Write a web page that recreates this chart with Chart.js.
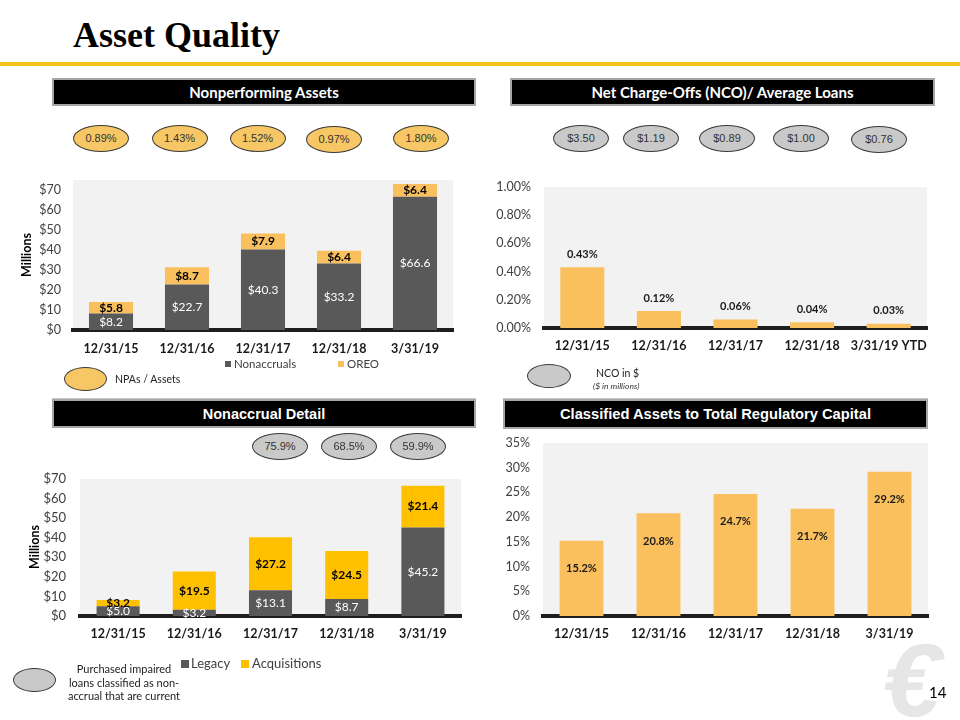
<!DOCTYPE html>
<html>
<head>
<meta charset="utf-8">
<script src="https://cdn.jsdelivr.net/npm/chart.js@4.4.1/dist/chart.umd.min.js"></script>
<style>
  html, body { margin:0; padding:0; background:#fff; }
  body { width:960px; height:720px; position:relative; overflow:hidden; font-family:Lato, "Open Sans", sans-serif; }
  .abs { position:absolute; }
  .title { left:73px; top:17px; font-family:"Liberation Serif", serif; font-weight:bold; font-size:36px; line-height:36px; color:#000; }
  .rule { left:0; top:62px; width:960px; height:4px; background:#F2C218; }
  .hdr { background:#000; border:2px solid #A6A6A6; box-sizing:border-box; color:#fff; font-weight:bold; display:flex; align-items:center; justify-content:center; white-space:nowrap; }
  .sep { height:1px; background:#C8C8C8; }
  .oval { border:1px solid #3A3A3A; border-radius:50%; box-sizing:border-box; display:flex; align-items:center; justify-content:center; font-family:"Liberation Sans", Arial, sans-serif; font-size:11px; color:#333; }
  .gold { background:#F8C765; }
  .grey { background:#C9C9C9; }
  .lg { font-size:11.5px; color:#404040; line-height:14px; white-space:nowrap; }
  .ytitle { font-size:12.5px; font-weight:bold; color:#000; line-height:14px; white-space:nowrap; transform:translate(-50%,-50%) rotate(-90deg); }
  canvas { position:absolute; }
</style>
</head>
<body>
<div class="abs title">Asset Quality</div>
<div class="abs rule"></div>

<div class="abs hdr" style="left:52px;top:78px;width:424px;height:28px;font-size:15px;">Nonperforming Assets</div>
<div class="abs hdr" style="left:510px;top:78px;width:425px;height:28px;font-size:15px;">Net Charge-Offs (NCO)/ Average Loans</div>
<div class="abs hdr" style="left:52px;top:399px;width:424px;height:29px;font-family:'Liberation Sans',Arial,sans-serif;font-size:14.5px;">Nonaccrual Detail</div>
<div class="abs hdr" style="left:503px;top:399px;width:425px;height:30px;font-family:'Liberation Sans',Arial,sans-serif;font-size:14.7px;">Classified Assets to Total Regulatory Capital</div>

<div class="abs sep" style="left:52px;top:398px;width:424px;"></div>
<div class="abs sep" style="left:503px;top:398px;width:425px;"></div>

<canvas id="cA" width="460" height="202" style="left:10px;top:158px;width:460px;height:202px;"></canvas>
<canvas id="cB" width="470" height="195" style="left:480px;top:165px;width:470px;height:195px;"></canvas>
<canvas id="cC" width="460" height="201" style="left:10px;top:457px;width:460px;height:201px;"></canvas>
<canvas id="cD" width="470" height="237" style="left:480px;top:421px;width:470px;height:237px;"></canvas>

<div class="abs ytitle" style="left:27px;top:255px;">Millions</div>
<div class="abs ytitle" style="left:35px;top:547px;">Millions</div>

<!-- legend A -->
<div class="abs" style="left:225px;top:361px;width:6px;height:6px;background:#595959;"></div>
<div class="abs lg" style="left:234px;top:357px;">Nonaccruals</div>
<div class="abs" style="left:338px;top:361px;width:6px;height:6px;background:#FAC05E;"></div>
<div class="abs lg" style="left:347px;top:357px;">OREO</div>

<!-- legend C -->
<div class="abs" style="left:181px;top:660px;width:8px;height:8px;background:#595959;"></div>
<div class="abs lg" style="left:191px;top:655px;font-size:13px;line-height:16px;">Legacy</div>
<div class="abs" style="left:241px;top:660px;width:8px;height:8px;background:#FFC000;"></div>
<div class="abs lg" style="left:252px;top:655px;font-size:13px;line-height:16px;">Acquisitions</div>

<!-- key ovals -->
<div class="abs oval gold" style="left:64px;top:367px;width:43px;height:24px;"></div>
<div class="abs" style="left:115px;top:372px;font-size:10.5px;line-height:14px;color:#222;">NPAs / Assets</div>

<div class="abs oval grey" style="left:527px;top:364px;width:44px;height:24px;"></div>
<div class="abs" style="left:596px;top:366px;font-size:10.5px;line-height:14px;color:#222;">NCO in $</div>
<div class="abs" style="left:593px;top:380px;font-size:8.5px;line-height:12px;color:#333;font-style:italic;">($ in millions)</div>

<div class="abs oval grey" style="left:13px;top:668px;width:43px;height:24px;"></div>
<div class="abs" style="left:64px;top:662px;width:120px;text-align:center;font-size:11px;line-height:13.5px;color:#222;">Purchased impaired<br>loans classified as non-<br>accrual that are current</div>

<div class="abs" style="left:883px;top:628px;font-family:'Liberation Sans',Arial,sans-serif;font-weight:bold;font-style:italic;font-size:104px;line-height:104px;color:#E6E6E6;">€</div>
<div class="abs" style="left:929px;top:683px;font-size:15px;line-height:18px;color:#000;">14</div>

<div id="ovals"></div>

<script>
// ---------------- data ----------------
const periods      = ['12/31/15', '12/31/16', '12/31/17', '12/31/18', '3/31/19'];
const ncoPeriods   = ['12/31/15', '12/31/16', '12/31/17', '12/31/18', '3/31/19 YTD'];
const nonaccruals  = [8.2, 22.7, 40.3, 33.2, 66.6];
const oreo         = [5.8, 8.7, 7.9, 6.4, 6.4];
const npaToAssets  = ['0.89%', '1.43%', '1.52%', '0.97%', '1.80%'];
const ncoRatio     = [0.43, 0.12, 0.06, 0.04, 0.03];
const ncoDollars   = ['$3.50', '$1.19', '$0.89', '$1.00', '$0.76'];
const legacy       = [5.0, 3.2, 13.1, 8.7, 45.2];
const acquisitions = [3.2, 19.5, 27.2, 24.5, 21.4];
const pciCurrent   = ['75.9%', '68.5%', '59.9%'];
const classified   = [15.2, 20.8, 24.7, 21.7, 29.2];
const npaTicks     = [0, 10, 20, 30, 40, 50, 60, 70];

// ---------------- oval layout ----------------
const ovalLayout = [
  { texts: npaToAssets, cls: 'gold', xs: [101, 179.5, 257.5, 334, 421], ys: [138, 138, 138, 139, 138] },
  { texts: ncoDollars,  cls: 'grey', xs: [581, 651, 727, 801, 879],     ys: [138, 138, 138, 138, 139] },
  { texts: pciCurrent,  cls: 'grey', xs: [280, 349, 418],               ys: [446, 446, 446] }
];
const ovalHost = document.getElementById('ovals');
ovalLayout.forEach(g => g.texts.forEach((t, i) => {
  const d = document.createElement('div');
  d.className = 'abs oval ' + g.cls;
  d.style.left = (g.xs[i] - 28) + 'px';
  d.style.top = (g.ys[i] - 13.5) + 'px';
  d.style.width = '56px';
  d.style.height = '27px';
  d.textContent = t;
  ovalHost.appendChild(d);
}));

// ---------------- plugins ----------------
Chart.defaults.font.family = 'Lato, "Open Sans", sans-serif';
Chart.defaults.animation = false;

const plotBg = {
  id: 'plotBg',
  beforeDraw(chart) {
    const { ctx, chartArea: a } = chart;
    ctx.save();
    ctx.fillStyle = '#F2F2F2';
    ctx.fillRect(a.left, a.top, a.right - a.left, a.bottom - a.top);
    ctx.restore();
  }
};
const barLabels = {
  id: 'barLabels',
  afterDatasetsDraw(chart) {
    const ctx = chart.ctx;
    chart.data.datasets.forEach((ds, i) => {
      const L = ds.lbl;
      if (!L) return;
      chart.getDatasetMeta(i).data.forEach((bar, j) => {
        const v = ds.data[j];
        let y;
        if (L.pos === 'center') y = (bar.y + bar.base) / 2;
        else if (L.pos === 'above') y = bar.y - L.off;
        else y = bar.y + L.off;
        ctx.save();
        ctx.font = L.font;
        ctx.fillStyle = L.color;
        ctx.textAlign = 'center';
        ctx.textBaseline = 'middle';
        ctx.fillText(L.fmt(v), bar.x, y);
        ctx.restore();
      });
    });
  }
};

const LF = 'Lato, "Open Sans", sans-serif';
function makeChart(id, labels, datasets, o) {
  const y = {
    stacked: true, min: 0, max: o.yMax,
    grid: { display: false, drawTicks: false },
    border: { display: false },
    ticks: { stepSize: o.yStep, padding: o.yPad, color: '#404040', font: { size: o.yFont || 12.5 },
             callback: o.yFmt, autoSkip: false },
    afterFit: s => { s.width = o.yWidth; }
  };
  if (o.yTickValues) {
    y.afterBuildTicks = s => { s.ticks = o.yTickValues.map(v => ({ value: v })); };
  }
  return new Chart(document.getElementById(id), {
    type: 'bar',
    data: { labels, datasets },
    options: {
      responsive: false, maintainAspectRatio: false,
      layout: { padding: o.pad },
      plugins: { legend: { display: false }, tooltip: { enabled: false } },
      datasets: { bar: { barPercentage: o.barPct, categoryPercentage: 1 } },
      scales: {
        x: {
          stacked: true,
          grid: { display: false, drawTicks: false },
          border: { display: true, color: '#1E1E1E', width: 4 },
          ticks: { padding: o.xPad, color: '#1A1A1A', font: { size: 12.5, weight: 'bold' },
                   maxRotation: 0, autoSkip: false },
          afterFit: s => { s.height = o.xHeight; }
        },
        y
      }
    },
    plugins: [plotBg, barLabels]
  });
}

const darkGray = '#595959', lightGold = '#FAC05E', gold = '#FFC000';
const whiteLbl = { pos: 'center', color: '#FFFFFF', font: '12px ' + LF, fmt: v => '$' + v.toFixed(1) };
const blackLbl = { pos: 'center', color: '#000000', font: 'bold 12px ' + LF, fmt: v => '$' + v.toFixed(1) };

// Chart A: Nonperforming Assets
makeChart('cA', periods, [
  { label: 'Nonaccruals', data: nonaccruals, backgroundColor: darkGray, lbl: whiteLbl },
  { label: 'OREO', data: oreo, backgroundColor: lightGold, lbl: blackLbl }
], { yMax: 75, yStep: 10, yTickValues: npaTicks, yFmt: v => '$' + v, yWidth: 63, yPad: 12,
     pad: { top: 22, right: 17, left: 0, bottom: 0 },
     xHeight: 30, xPad: 11, barPct: 0.58 });

// Chart B: NCO / Average Loans
makeChart('cB', ncoPeriods, [
  { label: 'NCO', data: ncoRatio, backgroundColor: lightGold,
    lbl: { pos: 'above', off: 13, color: '#1A1A1A', font: 'bold 11px ' + LF, fmt: v => v.toFixed(2) + '%' } }
], { yMax: 1.0, yStep: 0.2, yFmt: v => v.toFixed(2) + '%', yWidth: 64, yPad: 13,
     pad: { top: 22, right: 23, left: 0, bottom: 0 }, xHeight: 32, xPad: 10, barPct: 0.575 });

// Chart C: Nonaccrual Detail
makeChart('cC', periods, [
  { label: 'Legacy', data: legacy, backgroundColor: darkGray, lbl: whiteLbl },
  { label: 'Acquisitions', data: acquisitions, backgroundColor: gold, lbl: blackLbl }
], { yMax: 70, yStep: 10, yFmt: v => '$' + v, yWidth: 70, yPad: 14, yFont: 13,
     pad: { top: 22, right: 9, left: 0, bottom: 0 },
     xHeight: 42, xPad: 10, barPct: 0.565 });

// Chart D: Classified Assets to Total Regulatory Capital
makeChart('cD', periods, [
  { label: 'Classified', data: classified, backgroundColor: lightGold,
    lbl: { pos: 'inside', off: 28, color: '#1A1A1A', font: 'bold 11px ' + LF, fmt: v => v.toFixed(1) + '%' } }
], { yMax: 35, yStep: 5, yFmt: v => v + '%', yWidth: 63, yPad: 13,
     pad: { top: 22, right: 22, left: 0, bottom: 0 }, xHeight: 42, xPad: 10, barPct: 0.57 });
</script>
</body>
</html>
